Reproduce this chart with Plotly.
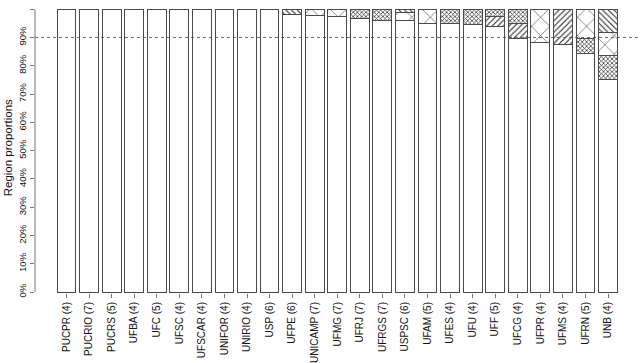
import plotly.graph_objects as go

categories = ["PUCPR (4)", "PUCRIO (7)", "PUCRS (5)", "UFBA (4)", "UFC (5)", "UFSC (4)",
              "UFSCAR (4)", "UNIFOR (4)", "UNIRIO (4)", "USP (6)", "UFPE (6)", "UNICAMP (7)",
              "UFMG (7)", "UFRJ (7)", "UFRGS (7)", "USPSC (6)", "UFAM (5)", "UFES (4)",
              "UFU (4)", "UFF (5)", "UFCG (4)", "UFPR (4)", "UFMS (4)", "UFRN (5)", "UNB (4)"]

# proportion per bar for each stacked segment (bottom to top)
own_region = [1, 1, 1, 1, 1, 1, 1, 1, 1, 1, 0.982, 0.9775, 0.973, 0.968, 0.961, 0.961,
              0.949, 0.949, 0.945, 0.938, 0.897, 0.883, 0.876, 0.844, 0.752]
region_d = [0, 0, 0, 0, 0, 0, 0, 0, 0, 0, 0, 0, 0, 0, 0, 0,
            0, 0, 0, 0.035, 0.053, 0, 0.124, 0, 0]
region_b = [0, 0, 0, 0, 0, 0, 0, 0, 0, 0, 0, 0, 0, 0.032, 0.039, 0,
            0, 0.051, 0.055, 0.027, 0.050, 0, 0, 0.054, 0.083]
region_c = [0, 0, 0, 0, 0, 0, 0, 0, 0, 0, 0, 0.0225, 0.027, 0, 0, 0.028,
            0.051, 0, 0, 0, 0, 0.117, 0, 0.102, 0.083]
region_e = [0, 0, 0, 0, 0, 0, 0, 0, 0, 0, 0.018, 0, 0, 0, 0, 0.011,
            0, 0, 0, 0, 0, 0, 0, 0, 0.082]

y_ticks = [0, 0.1, 0.2, 0.3, 0.4, 0.5, 0.6, 0.7, 0.8, 0.9, 1.0]
y_tick_labels = ["0%", "10%", "20%", "30%", "40%", "50%", "60%", "70%", "80%", "90%", ""]
threshold = 0.9

FONT = "Liberation Sans, Arial, Helvetica, sans-serif"
x = list(range(len(categories)))
outline = dict(color="#4a4a4a", width=1)

series = [
    (own_region, None),
    (region_d, dict(shape="/", size=4, solidity=0.25)),
    (region_b, dict(shape="x", size=3, solidity=0.4)),
    (region_c, dict(shape="x", size=13, solidity=0.08)),
    (region_e, dict(shape="\\", size=4, solidity=0.25)),
]

fig = go.Figure()
for vals, pat in series:
    yv = [v if v > 0 else None for v in vals]
    marker = dict(color="white", line=outline)
    if pat is not None:
        marker["pattern"] = dict(fgcolor="#222", bgcolor="white", fillmode="replace", **pat)
    fig.add_trace(go.Bar(x=x, y=yv, width=0.833, marker=marker, showlegend=False,
                         hoverinfo="skip"))

fig.add_shape(type="line", xref="paper", x0=0, x1=1, yref="y", y0=threshold, y1=threshold,
              line=dict(color="rgba(255,0,0,0.85)", width=1, dash="dot"))
fig.add_shape(type="line", xref="paper", x0=0, x1=0, yref="y", y0=0, y1=1,
              line=dict(color="#777", width=1))

fig.add_annotation(text="Region proportions", xref="paper", yref="y",
                   x=(7.5 - 35) / 605, y=0.51, textangle=-90, showarrow=False,
                   xanchor="center", yanchor="middle",
                   font=dict(family=FONT, size=11.5, color="#111"))

fig.update_layout(
    width=640, height=363, autosize=False,
    margin=dict(l=35, r=0, t=8.3, b=63.5, pad=0),
    barmode="stack",
    hovermode=False,
    plot_bgcolor="white", paper_bgcolor="white",
    font=dict(family=FONT, color="#111"),
    xaxis=dict(range=[-1.396, 25.418], tickvals=x, ticktext=categories, tickangle=-90,
               ticks="outside", ticklen=4, tickcolor="#777", showline=False,
               showgrid=False, zeroline=False, tickfont=dict(size=10, family=FONT)),
    yaxis=dict(range=[-0.003, 1.004], tickvals=y_ticks, ticktext=y_tick_labels,
               tickangle=-90, ticks="outside", ticklen=4, tickcolor="#777",
               showline=False, showgrid=False, zeroline=False,
               tickfont=dict(size=9.5, family=FONT)),
)

fig.write_html("out.html", config={"displayModeBar": False, "staticPlot": True},
               post_script="document.body.style.margin='0';document.body.style.overflow='hidden';")
